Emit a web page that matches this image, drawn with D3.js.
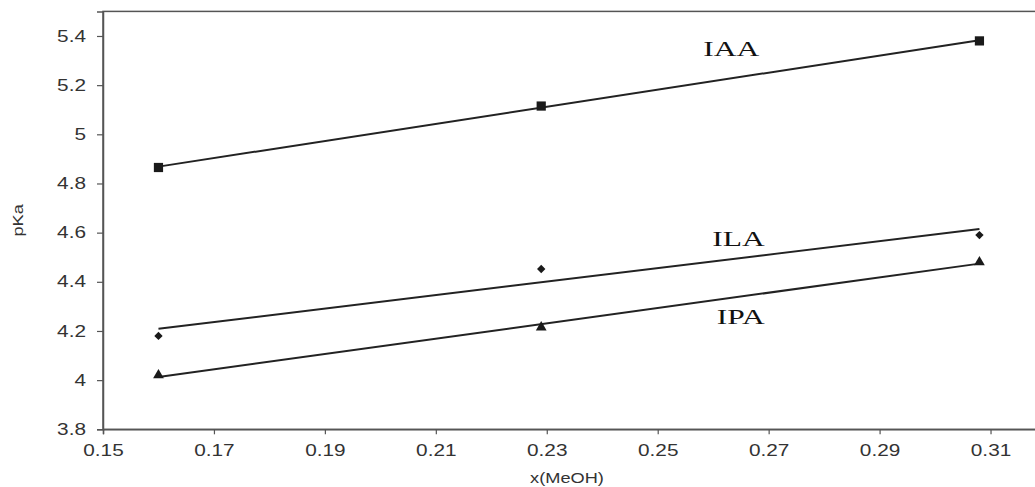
<!DOCTYPE html>
<html>
<head>
<meta charset="utf-8">
<script src="https://cdn.jsdelivr.net/npm/d3@7"></script>
<style>
  body { margin: 0; background: #fff; }
  .stretch-c { transform-box: fill-box; transform-origin: 50% 50%; transform: scaleX(1.3); }
  .stretch-r { transform-box: fill-box; transform-origin: 100% 50%; transform: scaleX(1.3); }
  .stretch-l { transform-box: fill-box; transform-origin: 50% 50%; transform: scaleX(1.5); }
</style>
</head>
<body>
<div id="chart"></div>
<script>
// 1: DATA
const xMeOH = [0.16, 0.229, 0.308];
const pKaIAA = [4.865, 5.115, 5.38];
const pKaILA = [4.18, 4.452, 4.59];
const pKaIPA = [4.02, 4.215, 4.48];
const seriesNames = ["IAA", "ILA", "IPA"];
const markerShapes = ["square", "diamond", "triangle"];
const labelX = [0.2633, 0.2646, 0.265];
const labelY = [5.319, 4.546, 4.229];
const xTicks = [0.15, 0.17, 0.19, 0.21, 0.23, 0.25, 0.27, 0.29, 0.31];
const yTicks = [3.8, 4, 4.2, 4.4, 4.6, 4.8, 5, 5.2, 5.4];

// 2: SIZES
const W = 1035, H = 487;
const margin = { top: 11.4, left: 103, bottom: 57.7 };
const plotRight = 1046; // frame runs past the image edge
const height = H - margin.top - margin.bottom;

const svg = d3.select("#chart").append("svg")
    .attr("width", W)
    .attr("height", H)
    .style("font-family", "'Liberation Sans', Arial, sans-serif");

const x = d3.scaleLinear().domain([0.15, 0.32]).range([margin.left, plotRight]);
const y = d3.scaleLinear().domain([3.8, 5.5]).range([margin.top + height, margin.top]);

// 3: FRAME
svg.append("rect")
    .attr("x", margin.left)
    .attr("y", margin.top)
    .attr("width", plotRight - margin.left)
    .attr("height", height)
    .attr("fill", "none")
    .attr("stroke", "#555")
    .attr("stroke-width", 1.5);

// 4: AXES
const yAxis = svg.append("g")
    .attr("transform", `translate(${margin.left},0)`)
    .call(d3.axisLeft(y).tickValues(yTicks).tickSize(6).tickPadding(11).tickFormat(d3.format("")));
const xAxis = svg.append("g")
    .attr("transform", `translate(0,${margin.top + height})`)
    .call(d3.axisBottom(x).tickValues(xTicks).tickSize(5).tickPadding(10).tickFormat(d3.format(".2f")));

[yAxis, xAxis].forEach(g => {
    g.select(".domain").attr("stroke", "#555").attr("stroke-width", 1.5);
    g.selectAll(".tick line").attr("stroke", "#555").attr("stroke-width", 1.2);
    g.selectAll(".tick text").attr("fill", "#333").style("font-size", "16px")
        .style("font-family", "'Liberation Sans', Arial, sans-serif");
});
yAxis.selectAll(".tick text").attr("class", "stretch-r");
xAxis.selectAll(".tick text").attr("class", "stretch-c");

// axis titles
svg.append("text")
    .attr("class", "stretch-c")
    .attr("x", 567).attr("y", 483)
    .attr("text-anchor", "middle")
    .attr("fill", "#333")
    .style("font-size", "14px")
    .text("x(MeOH)");

svg.append("text")
    .attr("transform", `translate(23,${y(4.65)}) rotate(-90) scale(1.3,1)`)
    .attr("text-anchor", "middle")
    .attr("fill", "#333")
    .style("font-size", "14px")
    .text("pKa");

// 5: SERIES (trend line = least-squares fit, plus markers)
const allSeries = [pKaIAA, pKaILA, pKaIPA];

function fit(xs, ys) {
    const mx = d3.mean(xs), my = d3.mean(ys);
    const sxy = d3.sum(xs, (v, i) => (v - mx) * (ys[i] - my));
    const sxx = d3.sum(xs, v => (v - mx) * (v - mx));
    const b = sxy / sxx;
    return v => my + b * (v - mx);
}

// wide rhombus like the spreadsheet marker
const rhombus = {
    draw(ctx, size) {
        const r = Math.sqrt(size) / 2;
        ctx.moveTo(0, -r); ctx.lineTo(r, 0); ctx.lineTo(0, r); ctx.lineTo(-r, 0); ctx.closePath();
    }
};

const symbolOf = {
    square: d3.symbol().type(d3.symbolSquare).size(85),
    diamond: d3.symbol().type(rhombus).size(70),
    triangle: d3.symbol().type(d3.symbolTriangle).size(50)
};

allSeries.forEach((vals, i) => {
    const f = fit(xMeOH, vals);
    const ends = d3.extent(xMeOH);
    svg.append("line")
        .attr("x1", x(ends[0])).attr("y1", y(f(ends[0])))
        .attr("x2", x(ends[1])).attr("y2", y(f(ends[1])))
        .attr("stroke", "#222")
        .attr("stroke-width", 2);

    svg.append("g").selectAll("path")
        .data(vals.map((v, j) => [xMeOH[j], v]))
        .enter().append("path")
        .attr("transform", d => `translate(${x(d[0])},${y(d[1])})`)
        .attr("d", symbolOf[markerShapes[i]]())
        .attr("fill", "#1a1a1a");

    svg.append("text")
        .attr("class", "stretch-l")
        .attr("x", x(labelX[i]))
        .attr("y", y(labelY[i]))
        .attr("text-anchor", "middle")
        .attr("fill", "#111")
        .style("font-family", "'Liberation Serif', 'Times New Roman', serif")
        .style("font-size", "21px")
        .text(seriesNames[i]);
});
</script>
</body>
</html>
